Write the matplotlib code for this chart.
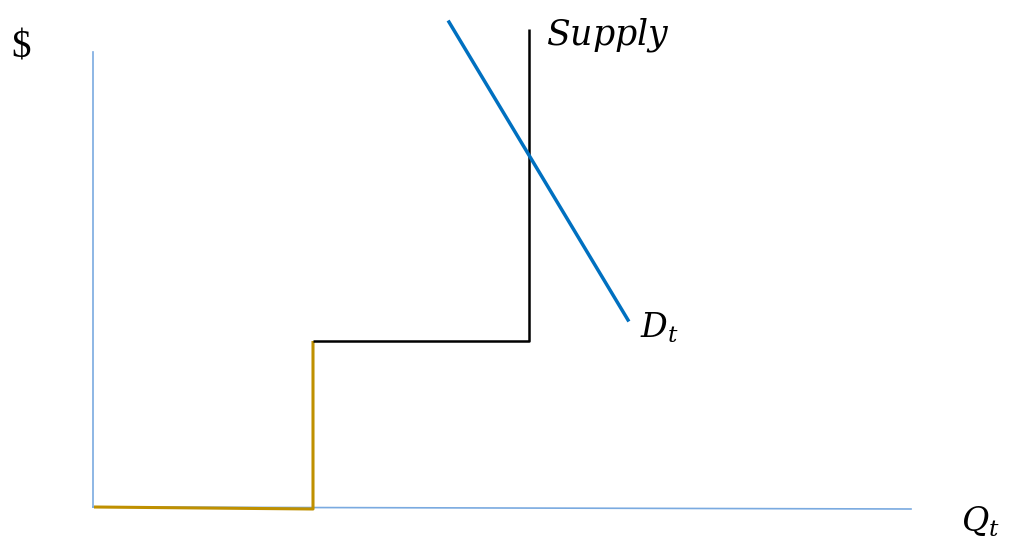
import matplotlib
matplotlib.use("Agg")
from matplotlib import pyplot as plt

plt.rcParams['mathtext.fontset'] = 'dejavuserif'

# Datos (cantidad, precio) en unidades del dibujo
eje_y_q = [0, 0]
eje_y_p = [0, 455]
eje_x_q = [0, 818]
eje_x_p = [0, -2]

tramo1_q = [1, 220, 220]
tramo1_p = [0, -2, 166]

tramo2_q = [220, 436, 436]
tramo2_p = [166, 166, 478]

demanda_q = [356, 535]
demanda_p = [485, 187]

fig = plt.figure(figsize=(10.09, 5.44), dpi=100)
ax = fig.add_axes([0, 0, 1, 1])
ax.set_xlim(-93, 916)
ax.set_ylim(-37, 507)
ax.axis('off')

# Ejes
ax.plot(eje_y_q, eje_y_p, color='#7aaae0', lw=1.2)
ax.plot(eje_x_q, eje_x_p, color='#7aaae0', lw=1.2)

# Oferta
ax.plot(tramo1_q, tramo1_p, color='#bf9000', lw=2.2, solid_capstyle='butt')
ax.plot(tramo2_q, tramo2_p, color='black', lw=1.8, solid_capstyle='butt')

# Demanda
ax.plot(demanda_q, demanda_p, color='#0070c0', lw=2.5)

# Etiquetas
ax.text(453, 462, r'$Supply$', fontsize=25, ha='left', va='baseline')
ax.text(547, 169, r'$D_t$', fontsize=24, ha='left', va='baseline')
ax.text(868, -25, r'$Q_t$', fontsize=24, ha='left', va='baseline')
ax.text(-82, 450, '$', fontsize=28, family='Liberation Serif', ha='left', va='baseline')

plt.savefig("out.png", dpi=100)
